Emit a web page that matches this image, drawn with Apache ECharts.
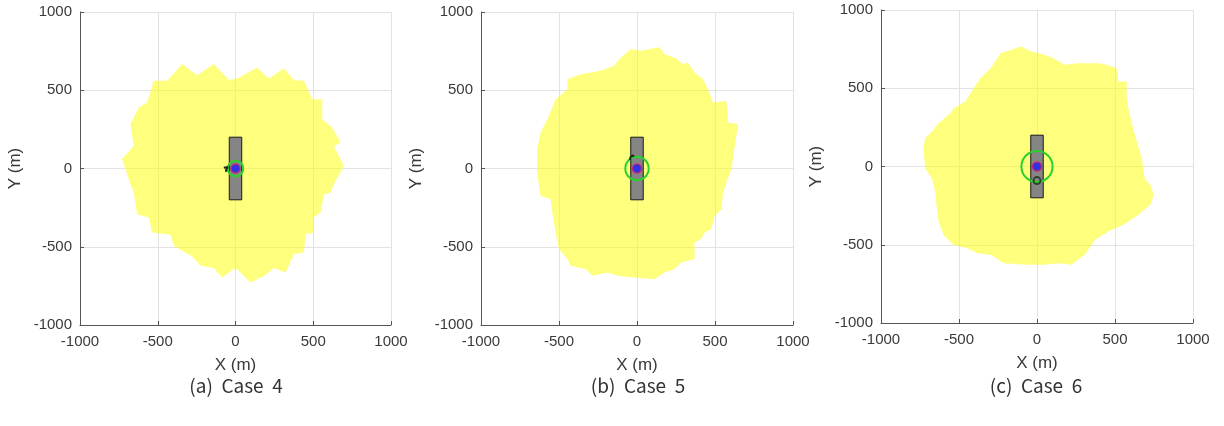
<!DOCTYPE html>
<html>
<head>
<meta charset="utf-8">
<script src="https://cdn.jsdelivr.net/npm/echarts@6/dist/echarts.min.js"></script>
<style>
  html, body { margin: 0; padding: 0; background: #fff; }
  #chart { width: 1224px; height: 426px; }
</style>
</head>
<body>
<div id="chart"></div>
<script>
// axis range and ticks (m)
const axisMin = -1000
const axisMax = 1000
const tickStep = 500

const captions = ['(a)  Case  4', '(b)  Case  5', '(c)  Case  6']

// yellow zone outlines
const zoneCase4 = [
    [-526, 561], [-440, 561], [-343, 667], [-247, 596], [-139, 667], [-43, 565],
    [11, 575], [139, 645], [215, 575], [311, 640], [376, 566], [440, 560],
    [494, 443], [558, 443], [558, 315], [622, 262], [676, 166], [633, 140],
    [697, 17], [633, -100], [612, -153], [569, -164], [547, -281], [504, -313],
    [504, -409], [451, -420], [440, -537], [376, -547], [322, -665], [247, -636],
    [193, -680], [97, -728], [0, -636], [-86, -697], [-139, -636], [-225, -622],
    [-279, -562], [-397, -494], [-418, -424], [-536, -409], [-558, -313], [-633, -292],
    [-654, -153], [-676, -100], [-730, 60], [-654, 145], [-676, 283], [-622, 390],
    [-569, 422]
]
const zoneCase5 = [
    [-39, 763], [25, 752], [144, 774], [176, 731], [258, 699], [290, 667],
    [326, 677], [369, 613], [423, 571], [455, 507], [487, 422], [573, 432],
    [584, 294], [648, 283], [627, 145], [616, 70], [605, -4], [573, -89],
    [552, -153], [541, -260], [498, -302], [476, -388], [434, -409], [412, -451],
    [369, -473], [369, -579], [283, -600], [240, -643], [176, -664], [112, -707],
    [-17, -697], [-124, -686], [-189, -664], [-285, -686], [-328, -643], [-425, -622],
    [-446, -579], [-500, -515], [-522, -409], [-543, -281], [-554, -196], [-618, -175],
    [-640, -26], [-640, 124], [-618, 230], [-575, 315], [-521, 443], [-446, 507],
    [-446, 571], [-361, 603], [-296, 613], [-232, 624], [-146, 656], [-103, 709]
]
const zoneCase6 = [
    [-103, 767], [-39, 735], [26, 720], [91, 699], [177, 650], [263, 660],
    [392, 660], [446, 650], [511, 628], [522, 543], [575, 543], [575, 437],
    [586, 373], [610, 266], [640, 160], [672, 53], [683, -32], [694, -85],
    [726, -117], [748, -181], [726, -245], [651, -309], [554, -373], [457, -415],
    [371, -469], [306, -564], [220, -628], [134, -618], [47, -628], [-60, -628],
    [-211, -618], [-297, -564], [-384, -554], [-448, -522], [-534, -501], [-599, -437],
    [-631, -351], [-642, -266], [-653, -160], [-674, -75], [-717, -11], [-728, 117],
    [-717, 181], [-664, 234], [-642, 266], [-556, 341], [-534, 373], [-459, 415],
    [-405, 501], [-362, 565], [-297, 628], [-233, 724], [-168, 745]
]
const zones = [zoneCase4, zoneCase5, zoneCase6]

// grey block, corners (m)
const blockX = [-40, 40]
const blockY = [-200, 200]

// green circle radius per case (m)
const circleRadius = [50, 75, 100]

// centre point
const centrePoint = [0, 0]

// small dark tracks near the centre
const trackCase4 = [[-75, 5], [-50, 10], [-62, -12], [-58, -22]]
const trackCase5 = [[-45, 55], [-42, 72], [-28, 84], [-18, 78]]
const trackCase6 = [[0, -90]]
const tracks = [trackCase4, trackCase5, trackCase6]

let chart = echarts.init(document.getElementById('chart'), null, { renderer: 'canvas' })

const grids = [
    { left: 80, top: 12, width: 311, height: 313 },
    { left: 481, top: 12, width: 312, height: 313 },
    { left: 881, top: 10, width: 312, height: 313 }
]
const captionCenters = [231, 633, 1031]

const labelFont = { color: '#3a3a3a', fontSize: 15, fontFamily: "'Liberation Sans'" }

let axisCommon = {
    type: 'value',
    min: axisMin,
    max: axisMax,
    interval: tickStep,
    axisLine: { show: true, onZero: false, lineStyle: { color: '#555', width: 1 } },
    axisTick: { show: true, inside: true, length: 4, lineStyle: { color: '#555' } },
    splitLine: { show: true, lineStyle: { color: '#e2e2e2', width: 1 } },
    nameLocation: 'middle',
    nameTextStyle: { color: '#3a3a3a', fontSize: 17, fontFamily: "'Liberation Sans'" }
}

let xAxes = grids.map((g, i) => Object.assign({}, axisCommon, {
    gridIndex: i,
    name: 'X (m)',
    nameGap: 32,
    axisLabel: Object.assign({ margin: 9, formatter: v => String(v) }, labelFont)
}))
let yAxes = grids.map((g, i) => Object.assign({}, axisCommon, {
    gridIndex: i,
    name: 'Y (m)',
    nameGap: 56,
    axisLabel: Object.assign({ margin: 8, formatter: v => String(v) }, labelFont)
}))

let series = []
zones.forEach((pts, i) => {
    // yellow zone
    series.push({
        type: 'custom',
        xAxisIndex: i, yAxisIndex: i,
        data: pts,
        clip: false,
        silent: true,
        renderItem: (params, api) => {
            if (params.dataIndex !== 0) return
            return {
                type: 'polygon',
                shape: { points: pts.map(p => api.coord(p)) },
                style: { fill: 'rgba(255, 255, 20, 0.55)', stroke: 'none' }
            }
        }
    })
    // grey block
    series.push({
        type: 'custom',
        xAxisIndex: i, yAxisIndex: i,
        data: [[blockX[0], blockY[0]]],
        silent: true,
        renderItem: (params, api) => {
            let corners = [
                [blockX[0], blockY[0]], [blockX[1], blockY[0]],
                [blockX[1], blockY[1]], [blockX[0], blockY[1]]
            ]
            return {
                type: 'polygon',
                shape: { points: corners.map(p => api.coord(p)) },
                style: { fill: '#858585', stroke: '#1a1a1a', lineWidth: 1 }
            }
        }
    })
    // green circle
    series.push({
        type: 'custom',
        xAxisIndex: i, yAxisIndex: i,
        data: [centrePoint],
        silent: true,
        renderItem: (params, api) => {
            let c = api.coord(centrePoint)
            let r = api.size([circleRadius[i], 0])[0]
            return {
                type: 'circle',
                shape: { cx: c[0], cy: c[1], r: r },
                style: { fill: 'none', stroke: '#2bd12b', lineWidth: 2 }
            }
        }
    })
    // dark track
    series.push(tracks[i].length > 1 ? {
        type: 'line',
        xAxisIndex: i, yAxisIndex: i,
        data: tracks[i],
        showSymbol: false,
        silent: true,
        lineStyle: { color: '#1d2e1d', width: 2 }
    } : {
        type: 'scatter',
        xAxisIndex: i, yAxisIndex: i,
        data: tracks[i],
        symbol: 'circle',
        symbolSize: 7,
        silent: true,
        itemStyle: { color: 'rgba(0,0,0,0)', borderColor: '#1d2e1d', borderWidth: 2 }
    })
    // centre point
    series.push({
        type: 'scatter',
        xAxisIndex: i, yAxisIndex: i,
        data: [centrePoint],
        symbolSize: 9,
        silent: true,
        itemStyle: { color: '#1a1aff', borderColor: '#d0206a', borderWidth: 1.5 }
    })
})

let option = {
    animation: false,
    backgroundColor: '#fff',
    title: captions.map((t, i) => ({
        text: t,
        left: captionCenters[i],
        top: 371,
        textAlign: 'center',
        textStyle: { color: '#333', fontSize: 19, fontWeight: 'normal', fontFamily: 'Noto Sans CJK KR, sans-serif' }
    })),
    grid: grids,
    xAxis: xAxes,
    yAxis: yAxes,
    series: series
}

chart.setOption(option)
window.addEventListener('resize', () => chart.resize(), false)
</script>
</body>
</html>
